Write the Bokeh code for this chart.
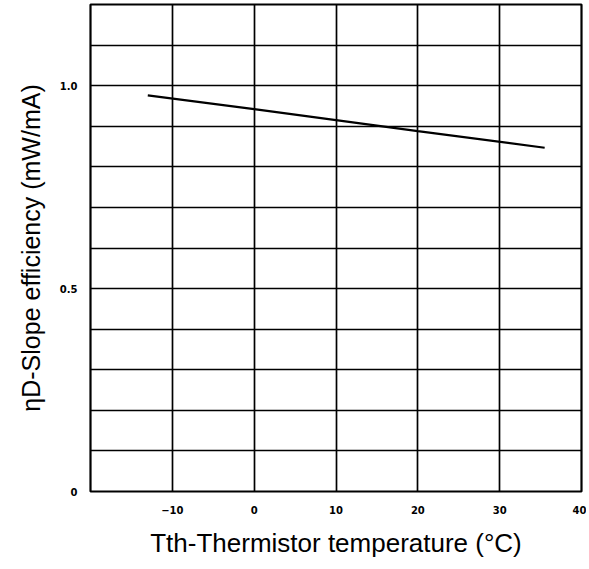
from bokeh.plotting import figure
from bokeh.models import FixedTicker, Range1d
from bokeh.embed import file_html
from bokeh.resources import INLINE

# Data
temperature = [-13, 0, 10, 20, 35.5]
slope_eff = [0.976, 0.942, 0.915, 0.888, 0.847]

x_ticks = [-10, 0, 10, 20, 30, 40]
x_grid = [-10, 0, 10, 20, 30]
y_ticks = [0, 0.5, 1.0]
y_tick_labels = {0: "0", 0.5: "0.5", 1: "1.0"}
y_grid = [0.1, 0.2, 0.3, 0.4, 0.5, 0.6, 0.7, 0.8, 0.9, 1.0, 1.1]

p = figure(width=586, height=562, output_backend="svg", toolbar_location=None,
           x_range=Range1d(-20, 40), y_range=Range1d(0, 1.2),
           min_border_left=90, min_border_right=5, min_border_top=4,
           min_border_bottom=71)

p.line(temperature, slope_eff, line_color="black", line_width=2.2)

p.outline_line_color = "black"
p.outline_line_width = 2.2
p.outline_line_alpha = 1.0

p.xaxis.ticker = FixedTicker(ticks=x_ticks)
p.yaxis.ticker = FixedTicker(ticks=y_ticks)
p.yaxis.major_label_overrides = y_tick_labels
p.xgrid.ticker = FixedTicker(ticks=x_grid)
p.ygrid.ticker = FixedTicker(ticks=y_grid)

for g in (p.xgrid, p.ygrid):
    g.grid_line_color = "black"
    g.grid_line_width = 1.7
    g.grid_line_alpha = 1.0

for ax in (p.xaxis, p.yaxis):
    ax.axis_line_color = None
    ax.major_tick_line_color = None
    ax.minor_tick_line_color = None
    ax.major_label_text_font = "DejaVu Sans"
    ax.major_label_text_font_style = "bold"
    ax.major_label_text_font_size = "10px"
    ax.major_label_text_color = "black"
    ax.axis_label_text_font = "Liberation Sans"
    ax.axis_label_text_font_style = "normal"
    ax.axis_label_text_font_size = "25px"
    ax.axis_label_text_color = "black"

p.xaxis.axis_label_text_font_size = "26px"
p.xaxis.major_label_standoff = 8
p.yaxis.major_label_standoff = 7
p.xaxis.axis_label = "Tth-Thermistor temperature (°C)"
p.yaxis.axis_label = "ηD-Slope efficiency (mW/mA)"
p.xaxis.axis_label_standoff = 11
p.yaxis.axis_label_standoff = 12

open("out.html", "w").write(file_html(p, INLINE))
